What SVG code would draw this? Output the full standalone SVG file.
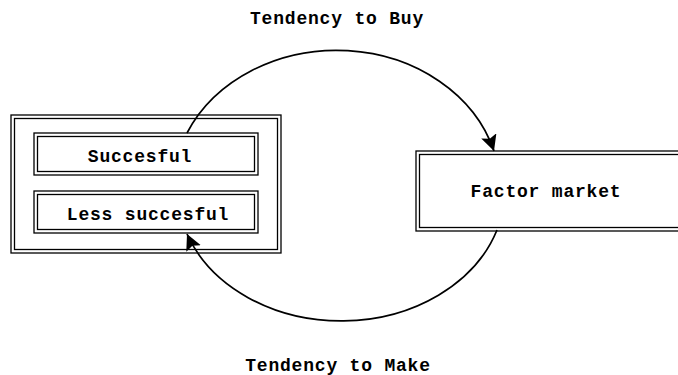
<svg xmlns="http://www.w3.org/2000/svg" width="678" height="375" viewBox="0 0 678 375">
<defs>
<style>
.bx{fill:none;stroke:#000;stroke-width:1.3}
.lbl{font-family:"Liberation Mono","Courier New",monospace;font-size:18px;letter-spacing:0.8px;text-anchor:middle;fill:#000;font-weight:bold}
.con{fill:none;stroke:#000;stroke-width:1.7}
</style>
<marker id="ah" markerUnits="userSpaceOnUse" markerWidth="20" markerHeight="18" refX="16" refY="8" orient="auto">
<path d="M0,0 L16,8 L0,16 L3,8 z" fill="#000"/>
</marker>
</defs>
<rect width="678" height="375" fill="#fff"/>
<g id="labels">
<text class="lbl" x="337" y="24">Tendency to Buy</text>
<text class="lbl" x="338" y="371">Tendency to Make</text>
</g>
<g id="firm">
<rect class="bx" x="11" y="115" width="270" height="138"/>
<rect class="bx" x="14.5" y="118.5" width="263" height="131"/>
</g>
<g id="succesful">
<rect class="bx" x="34" y="133" width="224" height="42"/>
<rect class="bx" x="37.5" y="136.5" width="217" height="35"/>
<text class="lbl" x="140" y="162">Succesful</text>
</g>
<g id="less-succesful">
<rect class="bx" x="34" y="191" width="224" height="42"/>
<rect class="bx" x="37.5" y="194.5" width="217" height="35"/>
<text class="lbl" x="148" y="220">Less succesful</text>
</g>
<g id="factor-market">
<rect class="bx" x="416" y="151" width="270" height="80"/>
<rect class="bx" x="419.5" y="154.5" width="270" height="73"/>
<text class="lbl" x="546" y="197">Factor market</text>
</g>
<g id="connectors">
<path class="con" d="M187,133 A164,140 0 0 1 494,151" marker-end="url(#ah)"/>
<path class="con" d="M497,230 A164,132 0 0 1 187,234" marker-end="url(#ah)"/>
</g>
</svg>
